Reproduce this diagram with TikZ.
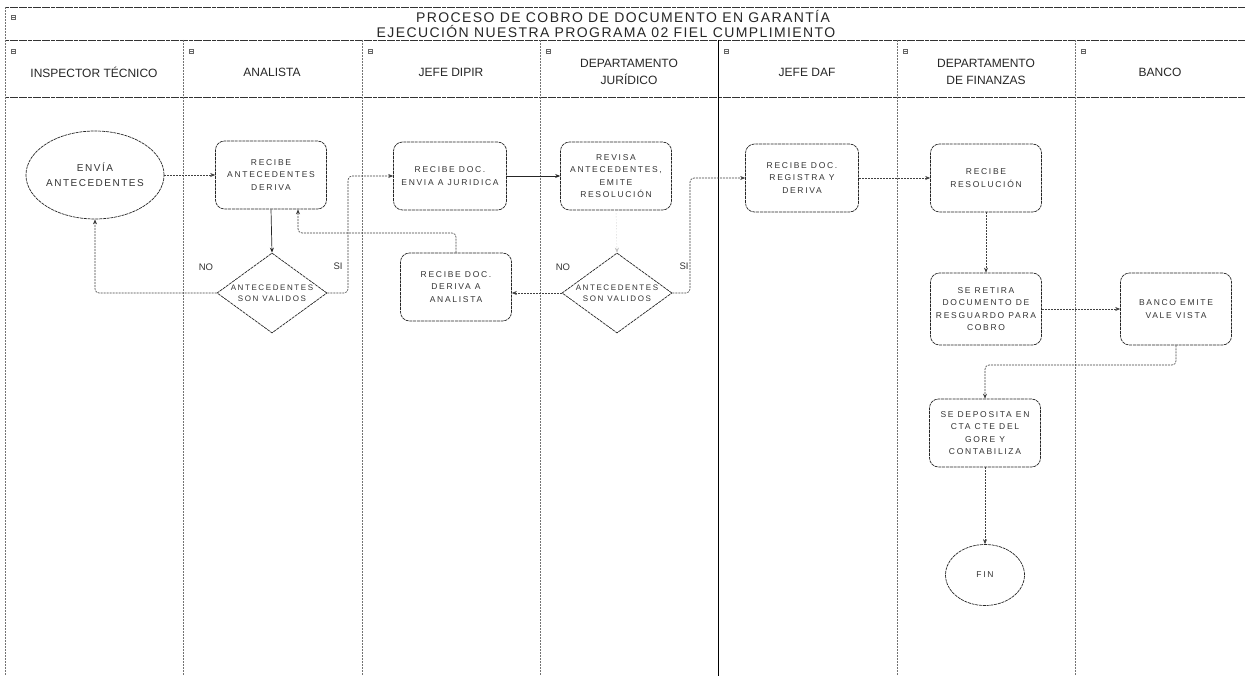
\documentclass[tikz,border=0pt]{standalone}
\usepackage{fontspec}
\setmainfont{Liberation Sans}
\newfontfamily\boxfont[LetterSpace=20]{Liberation Sans}
\newfontfamily\titlefont[LetterSpace=10]{Liberation Sans}
\newfontfamily\ovalfont[LetterSpace=15]{Liberation Sans}
\usetikzlibrary{shapes.geometric,arrows.meta,calc}

\begin{document}
\begin{tikzpicture}[x=1pt,y=-1pt,
  frame/.style={draw=black!80, line width=0.7pt, dash pattern=on 4pt off 0.6pt},
  laneline/.style={draw=black!55, line width=0.6pt, dash pattern=on 2pt off 1pt},
  strongline/.style={draw=black, line width=0.8pt},
  lanehead/.style={text=black!85, align=center, font=\fontsize{12}{17}\selectfont},
  task/.style={draw=black!85, line width=0.7pt, dash pattern=on 3pt off 0.8pt,
    rounded corners=9pt, minimum width=111pt, minimum height=68pt,
    align=center, inner sep=2pt, text=black!80,
    font=\boxfont\fontsize{8.5}{12.5}\selectfont},
  decision/.style={diamond, aspect=1.4, draw=black!85, line width=0.7pt,
    dash pattern=on 3pt off 0.8pt, minimum width=110pt, minimum height=80pt,
    inner sep=0pt, align=center, text=black!80,
    font=\boxfont\fontsize{8}{11.5}\selectfont},
  terminal/.style={ellipse, draw=black!85, line width=0.7pt,
    dash pattern=on 3pt off 0.8pt, align=center, inner sep=0pt, text=black!80},
  flow/.style={-{Stealth[length=5pt,width=4pt]}, draw=black!75, line width=0.6pt,
    dash pattern=on 2pt off 1pt, rounded corners=4pt},
  solidflow/.style={-{Stealth[length=5pt,width=4pt]}, draw=black!85, line width=0.7pt},
  answer/.style={text=black!80, font=\fontsize{9.5}{11}\selectfont},
  minibox/.style={draw=black!60, line width=0.4pt, minimum size=4pt, inner sep=0pt}
]
\useasboundingbox (0,0) rectangle (1249,676);

% ---- pool frame and lanes ----
\draw[frame] (5,7) -- (1245,7);
\draw[frame] (5,40) -- (1245,40);
\draw[frame] (5,97) -- (1245,97);
\draw[laneline] (5,7) -- (5,676);
\foreach \lx in {183,362,540,897,1075}
  \draw[laneline] (\lx,40) -- (\lx,676);
\draw[strongline] (718,40) -- (718,676);

% collapse markers
\node[minibox] (mk0) at (13,17) {};
\draw[black!60, line width=0.4pt] (mk0.west) -- (mk0.east);
\foreach \lx/\nm in {5/a,183/b,362/c,540/d,718/e,897/f,1075/g}{
  \node[minibox] (mk\nm) at (\lx+8,51) {};
  \draw[black!60, line width=0.4pt] (mk\nm.west) -- (mk\nm.east);
}

% ---- title ----
\node[text=black!85, font=\titlefont\fontsize{14}{16}\selectfont] (t1) at (623,17)
  {PROCESO DE COBRO DE DOCUMENTO EN GARANTÍA};
\node[text=black!85, font=\titlefont\fontsize{14}{16}\selectfont] (t2) at (606,32)
  {EJECUCIÓN NUESTRA PROGRAMA 02 FIEL CUMPLIMIENTO};

% ---- lane headers ----
\node[lanehead] (h1) at (94,72)   {INSPECTOR TÉCNICO};
\node[lanehead] (h2) at (272,72)  {ANALISTA};
\node[lanehead] (h3) at (451,72)  {JEFE DIPIR};
\node[lanehead] (h4) at (629,72)  {DEPARTAMENTO\\JURÍDICO};
\node[lanehead] (h5) at (807,72)  {JEFE DAF};
\node[lanehead] (h6) at (986,72)  {DEPARTAMENTO\\DE FINANZAS};
\node[lanehead] (h7) at (1160,72) {BANCO};

% ---- nodes ----
\node[terminal, minimum width=113pt, minimum height=88pt,
      font=\ovalfont\fontsize{10}{15}\selectfont] (env) at (95,175)
  {ENVÍA\\ANTECEDENTES};
\node[task] (ra)  at (271,175) {RECIBE\\ANTECEDENTES\\DERIVA};
\node[decision] (d1) at (272,293) {ANTECEDENTES\\SON VALIDOS};
\node[task, minimum width=113pt] (jd1) at (450,176) {RECIBE DOC.\\ENVIA A JURIDICA};
\node[task] (jd2) at (456,287) {RECIBE DOC.\\DERIVA A\\ANALISTA};
\node[task] (rev) at (616,176) {REVISA\\ANTECEDENTES,\\EMITE\\RESOLUCIÓN};
\node[decision] (d2) at (617,293) {ANTECEDENTES\\SON VALIDOS};
\node[task, minimum width=113pt] (reg) at (802,178) {RECIBE DOC.\\REGISTRA Y\\DERIVA};
\node[task] (res) at (986,178) {RECIBE\\RESOLUCIÓN};
\node[task, minimum height=72pt] (ret) at (986,309)
  {SE RETIRA\\DOCUMENTO DE\\RESGUARDO PARA\\COBRO};
\node[task, minimum height=72pt] (bco) at (1176,309) {BANCO EMITE\\VALE VISTA};
\node[task] (dep) at (985,433)
  {SE DEPOSITA EN\\CTA CTE DEL\\GORE Y\\CONTABILIZA};
\node[terminal, minimum width=79pt, minimum height=61pt,
      font=\boxfont\fontsize{8.5}{11}\selectfont] (fin) at (985,575) {FIN};

% answer labels
\node[answer] (no1) at (206,267) {NO};
\node[answer] (si1) at (338,266) {SI};
\node[answer] (no2) at (563,267) {NO};
\node[answer] (si2) at (684,266) {SI};

% ---- connectors ----
\coordinate (back1) at (298,233);
\coordinate (jog1) at (348,293);
\coordinate (jog2) at (690,293);
\coordinate (bend) at (1176,365);

\draw[flow] (env.east) -- (ra.west);
\draw[solidflow] (ra.south) -- (d1.north);
\draw[flow] (d1.west) -| (env.south);
\draw[flow] (d1.east) -- (jog1) |- (jd1.west);
\draw[solidflow] (jd1.east) -- (rev.west);
\draw[-{Stealth[length=5pt,width=4pt]}, draw=black!25, line width=0.4pt, dash pattern=on 1pt off 2pt]
  (rev.south) -- (d2.north);
\draw[flow] (d2.west) -- (d2.west -| jd2.east);
\draw[flow] (d2.east) -- (jog2) |- (reg.west);
\draw[flow] (jd2.north) |- (back1) -- (back1 |- ra.south);
\draw[flow] (reg.east) -- (res.west);
\draw[flow] (res.south) -- (ret.north);
\draw[flow] (ret.east) -- (bco.west);
\draw[flow] (bco.south) -- (bend) -| (dep.north);
\draw[flow] (dep.south) -- (fin.north);
\end{tikzpicture}
\end{document}
